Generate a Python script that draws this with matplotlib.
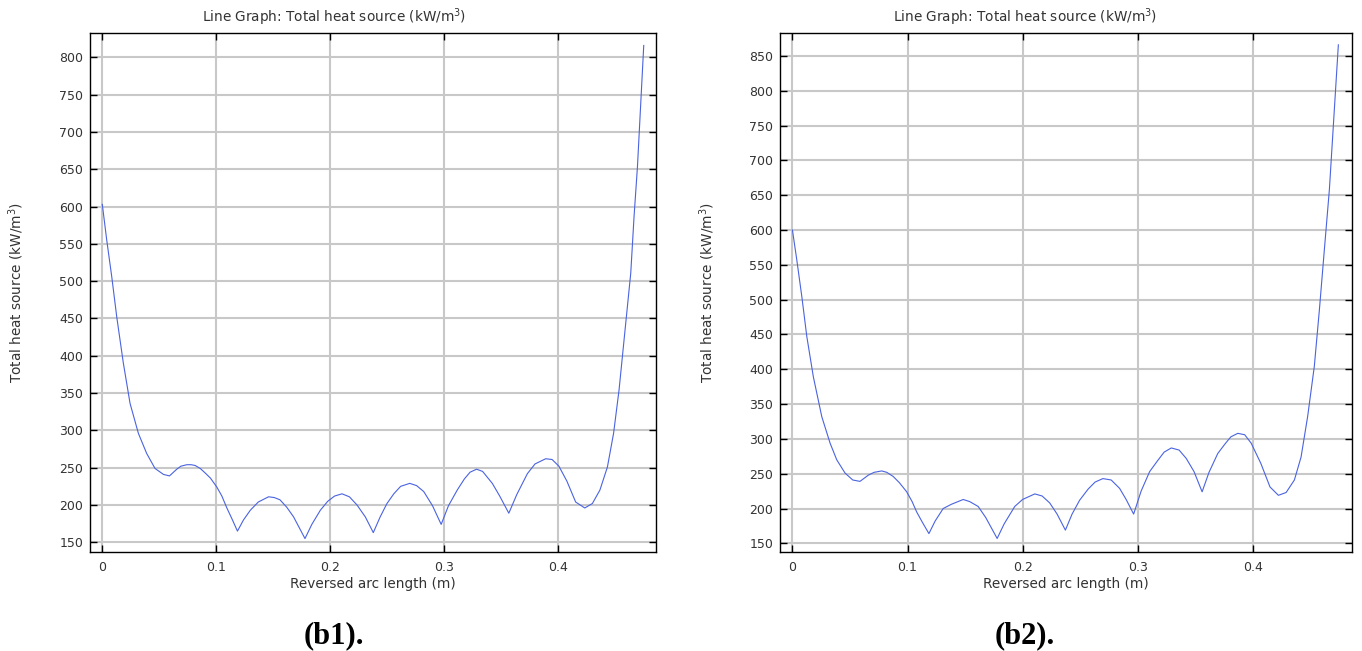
import matplotlib
matplotlib.use("Agg")
import matplotlib.pyplot as plt

# (b1) reversed arc length (m) vs total heat source (kW/m^3)
x_b1 = [0.0, 0.0039, 0.0083, 0.0127, 0.0185, 0.0244, 0.0317, 0.039, 0.0463, 0.0537,
        0.059, 0.0654, 0.069, 0.0742, 0.078, 0.0815, 0.086, 0.0903, 0.095, 0.1006,
        0.105, 0.1094, 0.114, 0.1187, 0.124, 0.13, 0.137, 0.146, 0.151, 0.156,
        0.162, 0.168, 0.178, 0.184, 0.1915, 0.198, 0.204, 0.2105, 0.217, 0.2237,
        0.231, 0.238, 0.244, 0.250, 0.256, 0.262, 0.270, 0.276, 0.2823, 0.290,
        0.2976, 0.304, 0.3117, 0.318, 0.323, 0.3287, 0.334, 0.3425, 0.349, 0.357,
        0.364, 0.3733, 0.380, 0.3894, 0.395, 0.401, 0.408, 0.4157, 0.4237, 0.4304,
        0.437, 0.4436, 0.449, 0.4538, 0.4597, 0.4641, 0.467, 0.470, 0.4755]
y_b1 = [603, 555, 506, 452, 390, 336, 296, 269, 249, 241,
        239, 248, 252, 254, 254, 253, 249, 243, 236, 224,
        212, 196, 181, 165, 180, 193, 204, 211, 210, 207,
        197, 184, 155, 174, 193, 205, 212, 215, 211, 200,
        184, 163, 184, 202, 215, 225, 229, 226, 218, 199,
        174, 199, 220, 235, 244, 248, 245, 229, 212, 189,
        214, 242, 255, 262, 261, 252, 232, 204, 196, 202,
        220, 251, 296, 354, 444, 511, 587, 654, 816]

# (b2)
x_b2 = [0.0, 0.0038, 0.0082, 0.0125, 0.0182, 0.0255, 0.0327, 0.0385, 0.0457, 0.0524,
        0.0587, 0.066, 0.071, 0.0776, 0.082, 0.0876, 0.093, 0.0993, 0.104, 0.108,
        0.113, 0.1186, 0.124, 0.131, 0.138, 0.1484, 0.154, 0.1614, 0.168, 0.1779,
        0.184, 0.1932, 0.200, 0.2106, 0.217, 0.2236, 0.230, 0.2372, 0.243, 0.2496,
        0.257, 0.263, 0.2698, 0.277, 0.2843, 0.290, 0.2965, 0.303, 0.3104, 0.317,
        0.323, 0.3292, 0.336, 0.3422, 0.349, 0.356, 0.362, 0.3696, 0.376, 0.381,
        0.387, 0.393, 0.3986, 0.407, 0.415, 0.4223, 0.429, 0.4362, 0.442, 0.4477,
        0.4535, 0.4579, 0.4622, 0.4666, 0.4744]
y_b2 = [600, 557, 504, 447, 389, 332, 294, 270, 251, 241,
        239, 248, 252, 254, 252, 246, 237, 224, 210, 195,
        180, 164, 182, 200, 206, 213, 210, 203, 187, 157,
        178, 203, 213, 221, 218, 208, 192, 169, 192, 212,
        228, 238, 243, 241, 229, 213, 192, 225, 253, 268,
        281, 287, 284, 272, 253, 224, 252, 279, 293, 303,
        308, 306, 294, 265, 231, 219, 223, 241, 274, 332,
        404, 485, 571, 658, 866]

# tag, x, y, y tick range, ylim, axes left/right px, ylabel px, title/tag centre px
panels = [
    ("(b1).", x_b1, y_b1, 150, 800, (137.4, 832.7), (90, 655.7), 26, 334),
    ("(b2).", x_b2, y_b2, 150, 850, (138, 883), (780, 1351.7), 717, 1025),
]

W, H = 1362, 651
fig = plt.figure(figsize=(W / 100, H / 100), dpi=100)
plt.rcParams["font.family"] = "DejaVu Sans"

for tag, xs, ys, ymin, ymax, ylim, (x0, x1), ylab_x, mid_x in panels:
    ax = fig.add_axes([x0 / W, 1 - 551.7 / H, (x1 - x0) / W, (551.7 - 33) / H])
    ax.plot(xs, ys, color="#4a63e0", linewidth=0.8)
    ax.set_xlim(-0.0108, 0.486)
    ax.set_ylim(*ylim)
    ax.set_xticks([0, 0.1, 0.2, 0.3, 0.4])
    ax.set_xticklabels(["0", "0.1", "0.2", "0.3", "0.4"])
    ax.set_yticks(range(ymin, ymax + 1, 50))
    ax.grid(True, color="#c8c8c8", linewidth=1.5)
    ax.set_axisbelow(True)
    ax.tick_params(direction="in", length=5, width=1, labelsize=9,
                   top=True, right=True, labelcolor="#333333")
    ax.tick_params(axis="x", pad=7)
    ax.tick_params(axis="y", pad=5)
    for sp in ax.spines.values():
        sp.set_linewidth(1.0)
    # title is centred on the whole panel, not on the axes box
    fig.text(mid_x / W, 1 - 17 / H, "Line Graph: Total heat source (kW/m$^3$)",
             ha="center", va="center", fontsize=9.8, color="#333333")
    ax.set_xlabel("Reversed arc length (m)", fontsize=9.8, color="#333333", labelpad=2)
    ax.set_ylabel("Total heat source (kW/m$^3$)", fontsize=9.8, color="#333333")
    ax.yaxis.set_label_coords((ylab_x - x0) / (x1 - x0), 0.5)
    fig.text(mid_x / W, 1 - 636 / H, tag, ha="center", va="center",
             fontsize=22, fontweight="bold", family="Liberation Serif")

fig.savefig("out.png", dpi=100)
